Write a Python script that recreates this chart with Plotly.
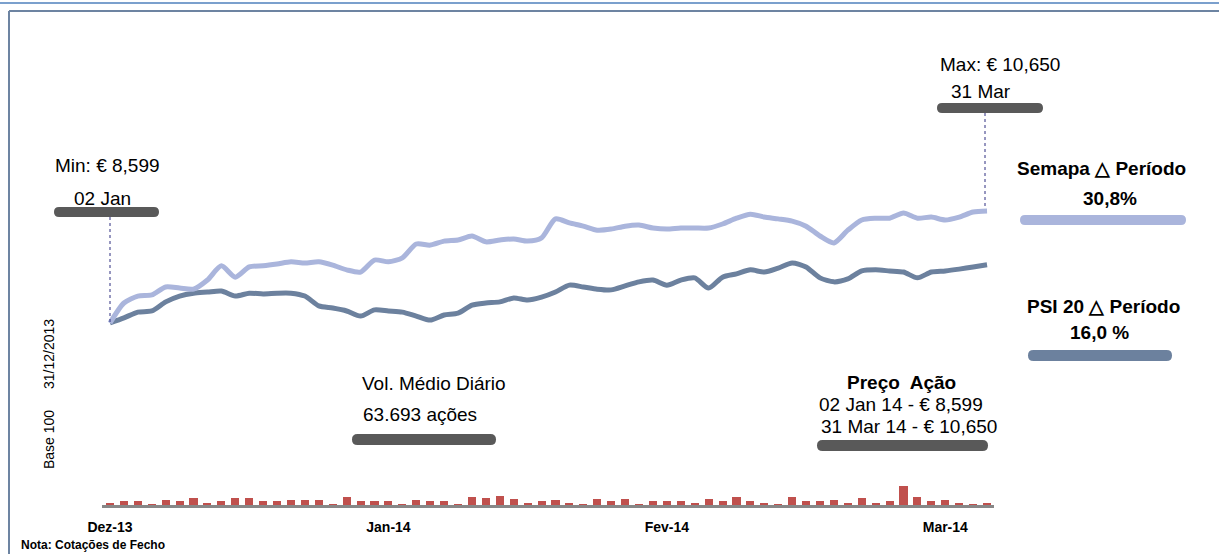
import plotly.graph_objects as go

# ---------------- data ----------------
days = list(range(64))  # trading days 31/12/2013 .. 31/03/2014 (index)

semapa = [100.0, 105.5, 107.4, 107.7, 109.9, 109.6, 109.3, 111.8, 115.7, 112.6,
          115.4, 115.7, 116.2, 116.8, 116.5, 116.8, 115.9, 114.6, 114.0, 117.3,
          116.8, 117.9, 121.7, 121.4, 122.5, 122.8, 123.9, 122.3, 122.8, 123.1,
          122.5, 123.4, 128.6, 127.5, 126.6, 125.5, 125.8, 126.6, 126.9, 126.1,
          125.8, 126.1, 126.1, 126.1, 127.2, 128.8, 129.9, 129.1, 128.6, 128.0,
          126.6, 123.9, 122.0, 125.5, 128.3, 128.8, 128.8, 130.2, 128.8, 129.1,
          128.3, 129.1, 130.5, 130.8]

psi20 = [100.0, 101.4, 103.0, 103.3, 105.8, 107.4, 108.2, 108.5, 108.8, 107.4,
         108.2, 108.0, 108.2, 108.2, 107.4, 104.7, 104.1, 103.3, 101.9, 103.6,
         103.3, 103.0, 101.9, 100.8, 102.2, 102.7, 104.9, 105.5, 105.8, 106.9,
         106.3, 107.1, 108.5, 110.4, 109.9, 109.3, 109.1, 110.2, 111.3, 111.8,
         110.4, 111.8, 112.4, 109.6, 112.6, 113.5, 114.6, 114.0, 115.1, 116.5,
         115.4, 112.4, 111.3, 112.1, 114.3, 114.6, 114.3, 114.0, 112.4, 114.0,
         114.3, 114.8, 115.4, 116.0]

volume_k = [29, 58, 58, 14, 72, 58, 101, 29, 58, 101, 101, 58, 58, 72, 72, 72, 14, 115, 58, 58, 58,
            14, 72, 58, 58, 14, 115, 101, 130, 86, 29, 58, 72, 29, 14, 86, 58, 86, 14, 58, 58, 58, 29,
            86, 58, 115, 58, 29, 14, 115, 58, 58, 72, 29, 101, 29, 58, 274, 115, 58, 72, 29, 14, 29]

tick_pos = [0, 20, 40, 60]
tick_text = ["Dez-13", "Jan-14", "Fev-14", "Mar-14"]

# ---------------- layout helpers (pixel -> paper) ----------------
FW, FH = 1219, 554
L, R, T, B = 102, 994, 0, 505


def xp(x):
    return (x - L) / (R - L)


def yp(y):
    return (B - y) / (B - T)


FONT = "Liberation Sans, Arial, sans-serif"
SEMAPA_C = "#aab5dc"
PSI_C = "#6c819e"
DARK = "#595959"

fig = go.Figure()

fig.add_trace(go.Bar(x=days, y=volume_k, yaxis="y2", marker_color="#c0504d",
                     marker_line_width=0, width=0.58, showlegend=False))
fig.add_trace(go.Scatter(x=days, y=psi20, mode="lines", showlegend=False,
                         line=dict(color=PSI_C, width=5, shape="spline", smoothing=0.7)))
fig.add_trace(go.Scatter(x=days, y=semapa, mode="lines", showlegend=False,
                         line=dict(color=SEMAPA_C, width=5, shape="spline", smoothing=0.7)))

shapes = []


def pill(x0, x1, y0, y1, color):
    r = (y1 - y0) / 2
    ym = (y0 + y1) / 2
    pts = [
        ("M", (x0 + r, y0)), ("L", (x1 - r, y0)),
        ("Q", (x1, y0), (x1, ym)), ("Q", (x1, y1), (x1 - r, y1)),
        ("L", (x0 + r, y1)),
        ("Q", (x0, y1), (x0, ym)), ("Q", (x0, y0), (x0 + r, y0)),
    ]
    d = ""
    for p in pts:
        cmd = p[0]
        coords = " ".join(f"{xp(a):.5f},{yp(b):.5f}" for a, b in p[1:])
        d += f"{cmd} {coords} "
    d += "Z"
    shapes.append(dict(type="path", xref="paper", yref="paper", path=d,
                       fillcolor=color, line=dict(width=0), layer="above"))


def seg(x0, y0, x1, y1, color, width, dash="solid"):
    shapes.append(dict(type="line", xref="paper", yref="paper",
                       x0=xp(x0), y0=yp(y0), x1=xp(x1), y1=yp(y1),
                       line=dict(color=color, width=width, dash=dash), layer="above"))


# frame
seg(-5, 3, FW + 5, 3, "#4f81bd", 1.5)
seg(9, 11, FW + 5, 11, "#6d84a2", 2)
seg(9, 11, 9, FH + 5, "#6d84a2", 2)

# dotted markers
seg(110, 217, 110, 322, "#2e2e80", 1, "dot")
seg(985, 113, 985, 206, "#2e2e80", 1, "dot")

# pills
pill(54, 159, 207, 217, DARK)
pill(937, 1043, 103, 113, DARK)
pill(1020, 1186, 215, 225, SEMAPA_C)
pill(1028, 1172, 350, 361, PSI_C)
pill(352, 496, 434, 445, DARK)
pill(817, 988, 440, 451, DARK)

annotations = []


def txt(text, x, y, size=19, bold=False, anchor="left", angle=0):
    t = f"<b>{text}</b>" if bold else text
    annotations.append(dict(text=t, xref="paper", yref="paper", x=xp(x), y=yp(y),
                            xanchor=anchor, yanchor="middle", showarrow=False,
                            textangle=angle,
                            font=dict(family=FONT, size=size, color="#000000")))


txt("Min: € 8,599", 53, 166)
txt("02 Jan", 72, 198)
txt("Max: € 10,650", 938, 64)
txt("31 Mar", 949, 91)
txt("Semapa △ Período", 1015, 169, bold=True)
txt("30,8%", 1081, 198, bold=True)
txt("PSI 20 △ Período", 1025, 306, bold=True)
txt("16,0 %", 1068, 333, bold=True)
txt("Vol. Médio Diário", 360, 383)
txt("63.693 ações", 361, 414)
txt("Preço  Ação", 845, 382, bold=True)
txt("02 Jan 14 - € 8,599", 817, 404)
txt("31 Mar 14 - € 10,650", 819, 426)
txt("31/12/2013", 49, 354, size=14, anchor="center", angle=-90)
txt("Base 100", 49, 440, size=14, anchor="center", angle=-90)
txt("Nota: Cotações de Fecho", 19, 545, size=12, bold=True)

fig.update_layout(
    width=FW, height=FH,
    margin=dict(l=L, r=FW - R, t=T, b=FH - B, pad=0),
    paper_bgcolor="white", plot_bgcolor="rgba(0,0,0,0)",
    bargap=0,
    xaxis=dict(range=[-0.575, 63.5], tickmode="array", tickvals=tick_pos,
               ticktext=[f"<b>{t}</b>" for t in tick_text],
               tickfont=dict(family=FONT, size=14, color="#000000"),
               showgrid=False, zeroline=False, showline=True,
               linecolor="#878787", linewidth=3, ticks="", ticklabelstandoff=7),
    yaxis=dict(range=[50, 188.74], visible=False, showgrid=False, zeroline=False),
    yaxis2=dict(range=[0, 7272], overlaying="y", visible=False,
                showgrid=False, zeroline=False),
    shapes=shapes,
    annotations=annotations,
)

fig.write_html("out.html", config={"displayModeBar": False},
               post_script="document.body.style.margin='0';")
